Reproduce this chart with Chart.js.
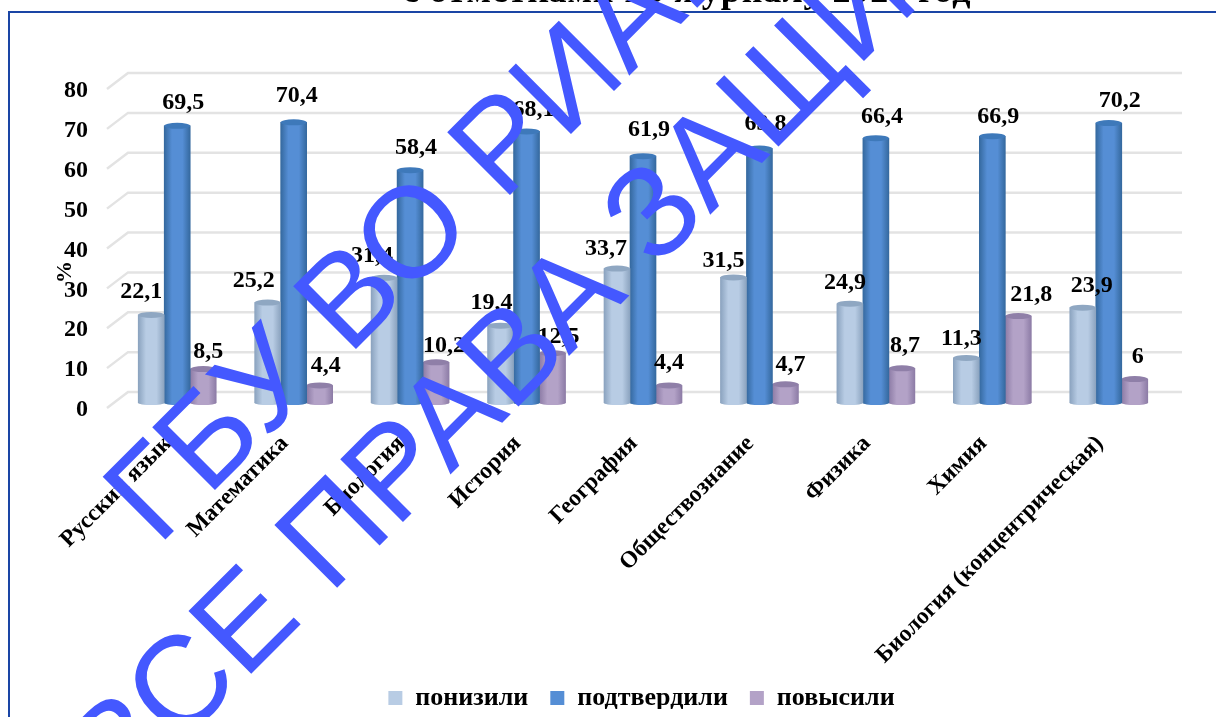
<!DOCTYPE html>
<html lang="ru">
<head>
<meta charset="utf-8">
<title>Отметки</title>
<script src="https://cdn.jsdelivr.net/npm/chart.js@4"></script>
<style>
  html, body { margin: 0; padding: 0; background: #fff; overflow: hidden; }
  canvas { display: block; }
</style>
</head>
<body>
<canvas id="chart" width="1216" height="717"></canvas>
<script>
const categories = ["Русский язык", "Математика", "Биология", "История", "География", "Обществознание", "Физика", "Химия", "Биология (концентрическая)"];
const lowered = [22.1, 25.2, 31.4, 19.4, 33.7, 31.5, 24.9, 11.3, 23.9];
const confirmed = [69.5, 70.4, 58.4, 68.1, 61.9, 63.8, 66.4, 66.9, 70.2];
const raised = [8.5, 4.4, 10.2, 12.5, 4.4, 4.7, 8.7, 21.8, 6];
const seriesNames = ["понизили", "подтвердили", "повысили"];
const titleText = "с отметками по журналу 2021 год";
const watermarkLines = ["ГБУ ВО РИАЦ", "ВСЕ ПРАВА ЗАЩИЩЕНЫ"];

const SERIF = '"Liberation Serif", serif';
const BAR_W = 26;
const legendColors = ["#b8cce4", "#558ed5", "#b3a2c7"];
const edgeColors = ["#8ba3bf", "#35699f", "#8d7ca6"];
const capColors = ["#8fa7c2", "#3e79ba", "#8f7fa8"];
// label nudges from the bar top, the source chart has them placed by hand
const labelDx = [
  [-10, -14, -12, -9, -11, -10, -5, -5, 9],
  [6, 3, 6, 7, 6, 6, 6, 6, 11],
  [5, 6, 8, 6, 0, 5, 3, 13, 3],
];
const labelDy = [
  [17, 16, 16, 17, 14, 10, 15, 13, 16],
  [17, 20, 16, 15, 20, 19, 15, 13, 16],
  [11, 13, 10, 10, 16, 13, 16, 15, 16],
];

function barGradient(ctx) {
  const chart = ctx.chart;
  const x = chart.scales.x;
  const i = ctx.datasetIndex;
  if (!x || ctx.dataIndex === undefined) return legendColors[i];
  const cx = x.getPixelForValue(ctx.dataIndex) + (i - 1) * BAR_W;
  const g = chart.ctx.createLinearGradient(cx - BAR_W / 2, 0, cx + BAR_W / 2, 0);
  g.addColorStop(0, edgeColors[i]);
  g.addColorStop(0.3, legendColors[i]);
  g.addColorStop(0.7, legendColors[i]);
  g.addColorStop(1, edgeColors[i]);
  return g;
}

// back wall lines of the fake 3D plot, shifted from the front axis
const backGrid = {
  id: "backGrid",
  beforeDatasetsDraw(chart) {
    const { ctx, scales: { x, y } } = chart;
    ctx.save();
    ctx.strokeStyle = "#e3e3e3";
    ctx.lineWidth = 2.5;
    y.ticks.forEach((t) => {
      const py = y.getPixelForValue(t.value);
      ctx.beginPath();
      ctx.moveTo(x.left - 12, py + 5);
      ctx.lineTo(x.left + 9, py - 11);
      ctx.lineTo(x.right + 15, py - 11);
      ctx.stroke();
    });
    ctx.restore();
  },
};

// cylinder ends and value labels
const barDecor = {
  id: "barDecor",
  afterDatasetDraw(chart, args) {
    const { ctx } = chart;
    const i = args.index;
    args.meta.data.forEach((bar) => {
      ctx.fillStyle = bar.options.backgroundColor;
      ctx.beginPath();
      ctx.ellipse(bar.x, bar.base, BAR_W / 2, 2, 0, 0, Math.PI * 2);
      ctx.fill();
      ctx.fillStyle = capColors[i];
      ctx.beginPath();
      ctx.ellipse(bar.x, bar.y, BAR_W / 2, 3, 0, 0, Math.PI * 2);
      ctx.fill();
    });
  },
  afterDatasetsDraw(chart) {
    const { ctx } = chart;
    ctx.save();
    ctx.fillStyle = "#000";
    ctx.font = "bold 24px " + SERIF;
    ctx.textAlign = "center";
    ctx.textBaseline = "alphabetic";
    chart.data.datasets.forEach((ds, i) => {
      chart.getDatasetMeta(i).data.forEach((bar, j) => {
        const text = String(ds.data[j]).replace(".", ",");
        ctx.fillText(text, bar.x + labelDx[i][j], bar.y - labelDy[i][j]);
      });
    });
    ctx.restore();
  },
};

// frame, cut off title, axis unit and the watermark on top of everything
const overlay = {
  id: "overlay",
  afterLayout(chart) {
    chart.legend.left += 58;
    chart.legend.right += 58;
    chart.legend.top += 12;
    // the long rotated label runs past the axis box, do not let it get clipped
    chart.scales.x.bottom += 40;
  },
  beforeDraw(chart) {
    const { ctx } = chart;
    ctx.save();
    ctx.fillStyle = "#000";
    ctx.font = "bold 36px " + SERIF;
    ctx.textAlign = "center";
    ctx.textBaseline = "alphabetic";
    ctx.letterSpacing = "0.9px";
    ctx.fillText(titleText, 687, 2);
    ctx.letterSpacing = "0px";
    ctx.strokeStyle = "#1a45a5";
    ctx.lineWidth = 2;
    ctx.beginPath();
    ctx.moveTo(9, 717);
    ctx.lineTo(9, 12);
    ctx.lineTo(1216, 12);
    ctx.stroke();
    ctx.translate(71, 272);
    ctx.rotate(-Math.PI / 2);
    ctx.font = "bold 22px " + SERIF;
    ctx.fillText("%", 0, 0);
    ctx.restore();
  },
  afterDraw(chart) {
    const { ctx } = chart;
    ctx.save();
    ctx.fillStyle = "#4458ff";
    ctx.font = '129px "Liberation Sans", sans-serif';
    ctx.textAlign = "left";
    ctx.textBaseline = "alphabetic";
    [[158, 547], [120, 805]].forEach((pos, i) => {
      ctx.save();
      ctx.translate(pos[0], pos[1]);
      ctx.rotate(-Math.PI / 4);
      ctx.fillText(watermarkLines[i], 0, 0);
      ctx.restore();
    });
    ctx.restore();
  },
};

new Chart(document.getElementById("chart"), {
  type: "bar",
  data: {
    labels: categories,
    datasets: [lowered, confirmed, raised].map((values, i) => ({
      label: seriesNames[i],
      data: values,
      backgroundColor: barGradient,
      borderWidth: 0,
      barThickness: BAR_W,
    })),
  },
  options: {
    responsive: false,
    animation: false,
    layout: { padding: { top: 84, right: 49, bottom: 8 } },
    scales: {
      x: {
        afterFit(scale) { scale.height = 248; },
        grid: { display: false },
        border: { display: false },
        ticks: {
          color: "#000",
          font: { family: SERIF, weight: "bold", size: 23.5 },
          minRotation: 45,
          maxRotation: 45,
          autoSkip: false,
          padding: 19,
          labelOffset: -9,
        },
      },
      y: {
        min: 0,
        max: 80,
        afterFit(scale) { scale.width = 119; },
        grid: { display: false },
        border: { display: false },
        ticks: {
          stepSize: 10,
          color: "#000",
          labelOffset: 7,
          padding: 23,
          font: { family: SERIF, weight: "bold", size: 24 },
        },
      },
    },
    plugins: {
      tooltip: { enabled: false },
      legend: {
        position: "bottom",
        labels: {
          color: "#000",
          boxWidth: 14,
          boxHeight: 14,
          padding: 22,
          font: { family: SERIF, weight: "bold", size: 26 },
          generateLabels: () => seriesNames.map((name, i) => ({
            text: name,
            fillStyle: legendColors[i],
            strokeStyle: legendColors[i],
            lineWidth: 0,
            datasetIndex: i,
          })),
        },
      },
    },
  },
  plugins: [backGrid, barDecor, overlay],
});
</script>
</body>
</html>
